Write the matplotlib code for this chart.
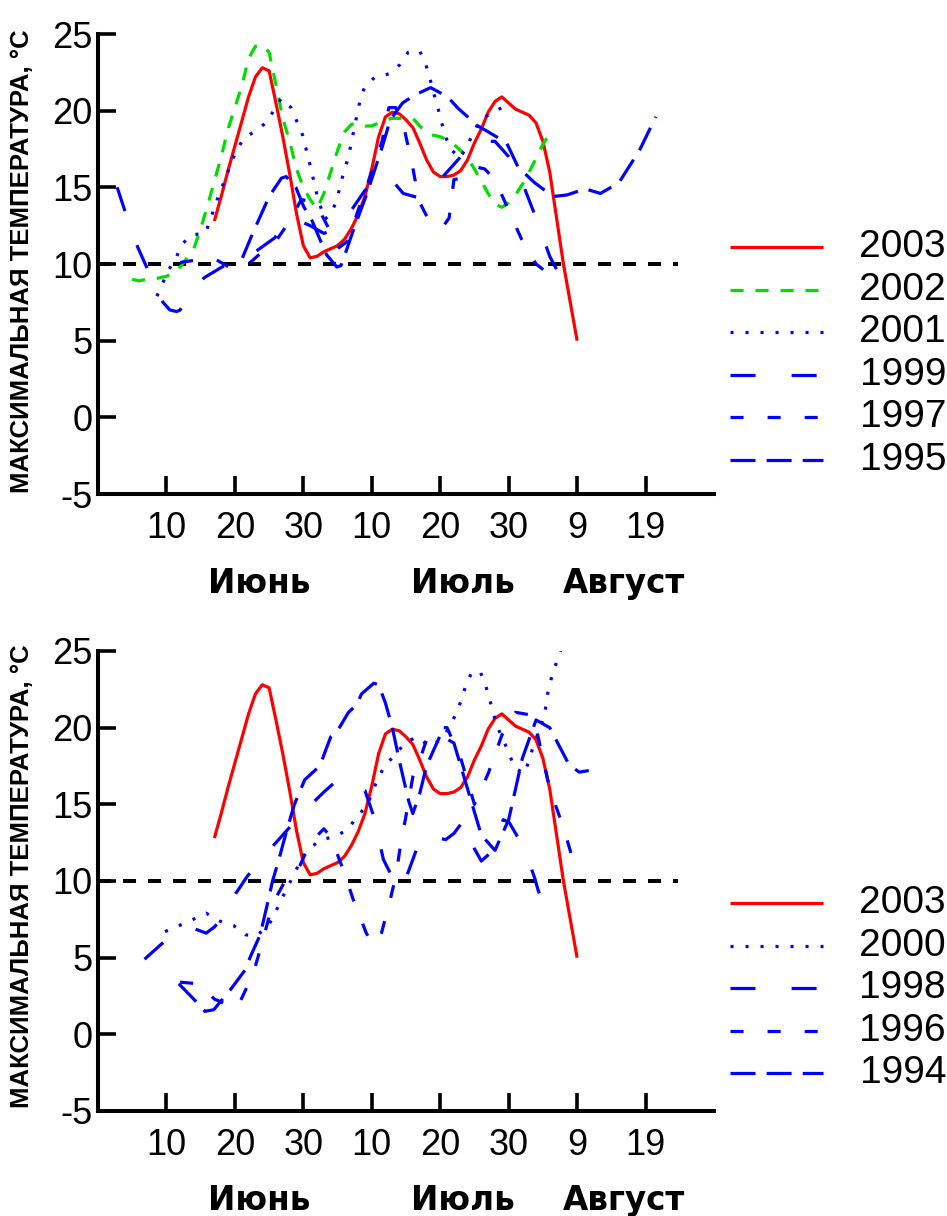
import matplotlib
matplotlib.use("Agg")
import matplotlib.pyplot as plt
from matplotlib.lines import Line2D

plt.rcParams['font.family'] = ['Liberation Sans', 'DejaVu Sans']
plt.rcParams['lines.scale_dashes'] = False
plt.rcParams['axes.unicode_minus'] = False

# x = day counted from 1 June (June 10 -> 10, July 10 -> 40, Aug 9 -> 70)
tick_days = [10, 20, 30, 40, 50, 60, 70, 80]
tick_labels = ['10', '20', '30', '10', '20', '30', '9', '19']
months = ['Июнь', 'Июль', 'Август']
month_days = [23.6, 53.3, 76.9]
ylabel = 'МАКСИМАЛЬНАЯ ТЕМПЕРАТУРА, °С'

# 2003 (both panels)
d2003 = [17, 18, 19, 20, 21, 22, 23, 24, 25, 26, 27, 28, 29, 30, 31, 32, 33, 34, 35, 36,
         37, 38, 39, 40, 41, 42, 43, 44, 45, 46, 47, 48, 49, 50, 51, 52, 53, 54, 55, 56,
         57, 58, 59, 60, 61, 62, 63, 64, 65, 66, 67, 68, 69, 70]
t2003 = [12.8, 14.4, 16.1, 17.7, 19.3, 20.9, 22.2, 22.8, 22.6, 20.5, 18.3, 15.9, 13.3, 11.2,
         10.4, 10.5, 10.8, 11.0, 11.2, 11.6, 12.3, 13.2, 14.4, 16.2, 18.3, 19.6, 19.9, 19.8,
         19.4, 18.9, 17.9, 16.8, 16.0, 15.7, 15.7, 15.8, 16.1, 16.8, 17.9, 18.8, 19.9, 20.6,
         20.9, 20.5, 20.1, 19.9, 19.7, 19.2, 18.0, 16.0, 13.0, 10.0, 7.5, 5.0]

# top panel
d2002 = [5, 6, 7, 8, 9, 10, 11, 12, 13, 14, 15, 16, 17, 18, 19, 20, 21, 22, 23, 24, 25, 26,
         27, 28, 29, 30, 31, 32, 33, 34, 35, 36, 37, 38, 39, 40, 41, 42, 43, 44, 45, 46, 47,
         48, 49, 50, 51, 52, 53, 54, 55, 56, 57, 58, 59, 60, 61, 62, 63, 64, 65, 66]
t2002 = [9.0, 8.9, 9.0, 9.0, 9.1, 9.2, 9.4, 9.8, 10.4, 11.0, 12.3, 13.8, 15.4, 17.0, 18.8,
         20.2, 21.6, 23.4, 24.2, 24.3, 23.8, 21.7, 19.5, 18.0, 16.2, 15.0, 14.2, 13.6, 14.6,
         16.0, 17.4, 18.6, 19.1, 19.2, 19.0, 19.0, 19.2, 19.4, 19.5, 19.5, 19.5, 19.5, 19.0,
         18.6, 18.4, 18.3, 18.1, 17.8, 17.4, 16.9, 16.2, 15.4, 14.6, 13.9, 13.7, 14.0, 14.5,
         15.2, 16.0, 16.9, 17.8, 18.5]

d2001 = [8.6, 9.4, 10.3, 11.4, 12.3, 13.7, 15.7, 17.5, 19.4, 20.1, 21.3, 23.1, 24.8, 26,
         26.8, 28.2, 29.9, 30.9, 32, 33.1, 34.1, 34.9, 35.6, 36.6, 37.5, 38.3, 39, 40.5,
         42.5, 44.1, 45.3, 47, 47.9, 48.5, 49, 49.6, 50.1, 50.7, 51.5, 52.9, 53.9, 54.8,
         55.8, 59.4]
t2001 = [7.9, 8.7, 9.6, 10.4, 11.3, 11.9, 12.0, 14.3, 16.5, 17.3, 18.2, 18.7, 19.3, 20.3,
         20.8, 20.2, 18.4, 16.6, 14.5, 12.9, 13.3, 14.2, 15.5, 17.0, 19.0, 20.7, 21.6, 22.2,
         22.4, 23.0, 23.8, 23.9, 23.0, 22.1, 21.2, 20.3, 19.4, 18.4, 17.5, 16.9, 17.7, 18.5,
         19.4, 20.3]

d1999 = [2.8, 3.9, 5.8, 7.1, 8.5, 9.5, 10.5, 11.5, 12, 13.5, 15.5, 18.1, 20.5, 23.3, 25.8,
         27.7, 29, 31, 33, 35, 37, 39, 41, 42.5, 44.6, 47, 50, 53, 56, 58, 60, 62, 64, 66, 68]
t1999 = [15.0, 13.5, 11.1, 9.8, 8.3, 7.5, 7.0, 6.9, 7.0, 8.1, 9.1, 9.8, 10.3, 10.9, 11.7,
         12.8, 12.9, 12.5, 12.0, 12.3, 13.5, 14.8, 15.5, 15.7, 14.6, 14.3, 15.5, 17.0, 18.0,
         18.0, 17.0, 15.3, 13.0, 10.5, 8.8]

d1997 = [12, 15, 17.2, 19.9, 22, 24, 26, 28, 29.7, 31, 32, 33.5, 35, 36.5, 38, 40, 41.5,
         42.5, 43.5, 44.6, 45.9, 46.9, 48.4, 49.5, 50.5, 51.3, 52, 53, 55.5, 56.5, 58, 60,
         62, 64, 66, 67.5]
t1997 = [10.1, 10.3, 10.3, 9.6, 10.0, 10.8, 11.5, 12.8, 14.2, 14.1, 13.8, 12.5, 11.0, 11.5,
         13.5, 16.0, 18.0, 20.2, 20.2, 19.1, 16.5, 14.1, 12.8, 12.4, 12.5, 13.0, 15.5, 15.6,
         16.3, 16.2, 15.5, 13.5, 11.5, 10.0, 9.3, 8.9]

d1995 = [21.1, 22.6, 25, 26.8, 27.5, 28.9, 30.1, 31.2, 32.9, 33.4, 34.9, 35.5, 36.3, 37.3,
         39.3, 41.5, 42.7, 44.5, 46.2, 48.1, 48.6, 51.1, 52.5, 55.5, 56.7, 59.7, 61.4, 63.8,
         66.5, 68.5, 71.2, 73.4, 76.1, 77.1, 79.1, 81.5]
t1995 = [10.4, 12.0, 14.4, 15.6, 15.7, 15.0, 13.7, 12.9, 11.1, 10.6, 9.8, 9.9, 10.9, 12.2,
         14.6, 17.6, 19.4, 20.5, 21.0, 21.4, 21.5, 20.9, 20.2, 19.0, 18.7, 17.9, 16.3, 15.3,
         14.4, 14.5, 14.9, 14.6, 15.3, 16.0, 17.4, 19.6]

# bottom panel
d2000 = [9.8, 11.9, 13.9, 15.8, 17.7, 19.8, 21.5, 23, 24.8, 25.8, 26.8, 27.7, 28.7, 29.7,
         30.8, 32.6, 34.7, 36.6, 37.8, 39.3, 40.8, 42, 43.4, 44.8, 46.6, 48.4, 50.1, 51.3,
         52.3, 53, 53.7, 54.5, 55.8, 56.6, 57.2, 57.7, 58.4, 59.2, 60.1, 60.8, 62.3, 63,
         63.6, 64.6, 65.2, 65.8, 66.4, 67.1, 67.8, 68.5]
t2000 = [6.7, 7.1, 7.5, 7.9, 7.4, 7.1, 6.5, 6.4, 7.0, 7.85, 8.8, 9.6, 10.5, 11.4, 12.1,
         12.7, 12.9, 13.4, 14.2, 14.9, 16.6, 17.6, 18.2, 19.0, 19.4, 18.8, 19.2, 20.0, 20.9,
         21.7, 22.7, 23.5, 23.7, 22.8, 21.9, 21.0, 20.0, 19.2, 18.3, 17.4, 17.0, 17.9, 18.8,
         20.0, 20.7, 22.5, 23.5, 24.4, 25.3, 26.2]

d1998 = [6.8, 9.3, 11.5, 14, 15.8, 17, 18.5, 20, 21.8, 24, 27, 30, 33, 35, 36.1, 39, 40.3,
         41.7, 42.6, 43.5, 45, 45.5, 46.9, 47.6, 50.8, 52, 53.5, 54.7, 55, 56, 57.5, 59.2,
         60.1, 61.8, 62.6, 63.8, 64.3, 65.6]
t1998 = [4.9, 5.9, 6.6, 6.9, 6.6, 7.0, 7.8, 9.1, 10.3, 11.5, 13.0, 14.5, 15.8, 16.6, 16.6,
         15.9, 14.2, 11.4, 10.6, 9.5, 10.2, 10.8, 12.5, 13.0, 12.7, 13.1, 14.0, 12.7, 12.1,
         11.3, 11.9, 14.0, 13.8, 12.5, 11.7, 10.2, 9.4, 7.9]

d1996 = [12, 14.7, 15.9, 17, 19.1, 20.3, 22.1, 22.8, 24, 25.5, 27.2, 29.4, 31, 33, 34, 36.1,
         37.2, 39.2, 40, 41.1, 41.3, 42.7, 43.5, 44.4, 44.9, 46, 47, 48, 49.5, 51, 53, 55, 57,
         59, 61, 63.6, 66, 68, 69.7]
t1996 = [3.4, 3.3, 2.8, 2.3, 1.9, 1.7, 3.4, 4.15, 6.0, 8.5, 9.9, 10.9, 12.5, 13.4, 12.9,
         10.4, 8.9, 6.6, 6.0, 6.0, 6.4, 8.8, 10.3, 12.9, 14.0, 16.8, 17.9, 19.2, 20.0, 20.0,
         18.0, 15.0, 17.0, 19.5, 21.0, 20.8, 16.0, 13.5, 10.9]

d1994 = [11.8, 14.2, 15.6, 16.9, 18.3, 19.5, 21.5, 22.3, 23.7, 24.9, 25.5, 26.3, 27.7, 28.7,
         30.2, 32.4, 34, 35, 36.6, 37.8, 38.5, 40.3, 41, 42, 43, 44.2, 45.4, 46, 47, 48, 50,
         52, 54, 56, 58, 60, 62, 64, 66, 68.8, 70.3, 71.7]
t1994 = [3.3, 2.2, 1.5, 1.6, 2.35, 3.0, 4.2, 5.1, 6.5, 8.8, 10.0, 11.2, 13.5, 15.0, 16.6,
         17.5, 19.4, 19.8, 21.0, 21.5, 22.2, 22.9, 22.8, 21.6, 20.0, 17.5, 15.2, 14.4, 15.7,
         17.5, 19.5, 19.0, 16.0, 13.0, 12.0, 14.0, 18.0, 20.5, 20.0, 17.6, 17.1, 17.2]

RED = '#ff0000'
GREEN = '#00dd00'
BLUE = '#0000ff'
LW = 2.3
solid = '-'
green_dash = (0, (9.4, 8.6))
dotted = (0, (2.2, 8.6))
long_gap = (0, (18, 26))
short_dash = (0, (9.4, 17.3))
long_dash = (0, (18, 8))

top_series = [
    ('2003', d2003, t2003, RED, solid),
    ('2002', d2002, t2002, GREEN, green_dash),
    ('2001', d2001, t2001, BLUE, dotted),
    ('1999', d1999, t1999, BLUE, long_gap),
    ('1997', d1997, t1997, BLUE, short_dash),
    ('1995', d1995, t1995, BLUE, long_dash),
]
bottom_series = [
    ('2003', d2003, t2003, RED, solid),
    ('2000', d2000, t2000, BLUE, dotted),
    ('1998', d1998, t1998, BLUE, long_gap),
    ('1996', d1996, t1996, BLUE, short_dash),
    ('1994', d1994, t1994, BLUE, long_dash),
]

W, H = 947, 1216
fig = plt.figure(figsize=(W / 100, H / 100), dpi=100)


def panel(rect, series, legend_y, label_y):
    ax = fig.add_axes(rect)
    ax.plot([0, 84.7], [10, 10], color='black', lw=2.9, ls=(0, (9.4, 8.6)))
    for name, d, t, c, ls in series:
        ax.plot(d, t, color=c, lw=LW, ls=ls, solid_capstyle='butt', dash_capstyle='butt')
    ax.set_xlim(0, 90)
    ax.set_ylim(-5, 25)
    for s in ['top', 'right']:
        ax.spines[s].set_visible(False)
    for s in ['left', 'bottom']:
        ax.spines[s].set_linewidth(2.9)
    ax.set_yticks([-5, 0, 5, 10, 15, 20, 25])
    ax.set_xticks(tick_days)
    ax.set_xticklabels(tick_labels)
    ax.tick_params(direction='in', length=13, width=2.6, labelsize=26, pad=12)
    ax.tick_params(axis='y', pad=4)
    for m, md in zip(months, month_days):
        ax.text(md, -0.195, m, transform=ax.get_xaxis_transform(), ha='center', va='center',
                fontsize=23.5, fontweight='bold', family='DejaVu Sans')
    fig.text(22 / W, 1 - label_y / H, ylabel, rotation=90, ha='center', va='center',
             fontsize=18.5, fontweight='bold')
    # legend
    for i, (name, d, t, c, ls) in enumerate(series):
        y = 1 - (legend_y + i * 42.6) / H
        fig.add_artist(Line2D([730 / W, 823 / W], [y, y], color=c, lw=LW, ls=ls,
                              solid_capstyle='butt', dash_capstyle='butt'))
        fig.text(946 / W, y, name, ha='right', va='center', fontsize=28)
    return ax


ax1 = panel([98 / W, 1 - 494 / H, 616 / W, 460 / H], top_series, 247, 261)
ax2 = panel([98 / W, 1 - 1111 / H, 616 / W, 460 / H], bottom_series, 903, 876)

fig.savefig('out.png', dpi=100)
